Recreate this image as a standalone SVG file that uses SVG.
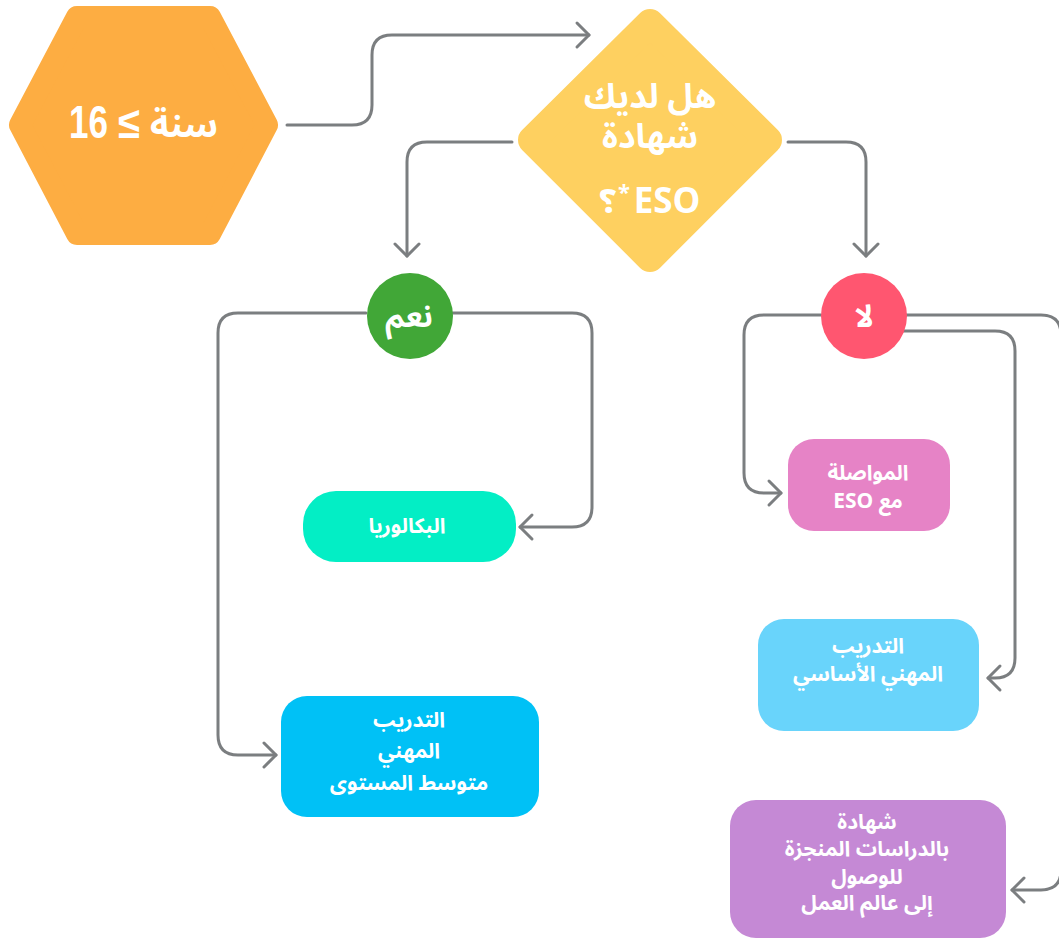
<svg xmlns="http://www.w3.org/2000/svg" width="1059" height="940" viewBox="0 0 1059 940">
<style>
.c{fill:none;stroke:#7B7E80;stroke-width:3;stroke-linecap:round;stroke-linejoin:round;marker-end:url(#ar)}
.t{fill:#fff;font-family:"Noto Sans Arabic","Noto Sans","DejaVu Sans",sans-serif;font-weight:bold;text-anchor:middle;direction:rtl}
.b{font-size:21px}
</style>
<defs>
<marker id="ar" viewBox="-15 -15 18 30" refX="0" refY="0" markerWidth="18" markerHeight="30" markerUnits="userSpaceOnUse" orient="auto">
<path d="M-12,-12 L0,0 L-12,12" fill="none" stroke="#7B7E80" stroke-width="3" stroke-linecap="round" stroke-linejoin="round"/>
</marker>
</defs>
<rect width="1059" height="940" fill="#fff"/>
<g id="connectors">
<path class="c" d="M287,125 H352 Q372,125 372,105 V55 Q372,35 392,35 H589"/>
<path class="c" d="M512,142 H427 Q407,142 407,162 V256"/>
<path class="c" d="M788,142 H846 Q866,142 866,162 V256"/>
<path class="c" d="M366,313 H238 Q218,313 218,333 V735 Q218,755 238,755 H276"/>
<path class="c" d="M452,313 H572 Q592,313 592,333 V507 Q592,527 572,527 H520"/>
<path class="c" d="M821,315 H764 Q744,315 744,335 V473 Q744,493 764,493 H781"/>
<path class="c" d="M904,331 H995 Q1015,331 1015,351 V658 Q1015,678 995,678 H988"/>
<path class="c" d="M906,315 H1041 Q1061,315 1061,335 V870 Q1061,890 1041,890 H1012"/>
</g>
<g id="n-age">
<polygon points="20,125 77,17 210,17 267,125 210,234 77,234" fill="#FDAD42" stroke="#FDAD42" stroke-width="22" stroke-linejoin="round"/>
<text x="69" y="138" class="t" style="direction:ltr;text-anchor:start;font-size:46px;font-family:'Liberation Sans',sans-serif" textLength="39" lengthAdjust="spacingAndGlyphs">16</text>
<text x="129" y="138" class="t" style="direction:ltr;font-size:44px;font-family:'Liberation Sans',sans-serif" textLength="22" lengthAdjust="spacingAndGlyphs">≤</text>
<text x="184" y="137" class="t" style="font-size:36px">سنة</text>
</g>
<g id="n-question">
<polygon points="650,23 768,140 650,258 532,140" fill="#FED060" stroke="#FED060" stroke-width="28" stroke-linejoin="round"/>
<text x="650" y="108" class="t" style="font-size:34px">هل لديك</text>
<text x="650" y="148" class="t" style="font-size:34px">شهادة</text>
<text x="667" y="213" class="t" style="font-size:35px;direction:ltr">ESO</text>
<text x="624" y="200" class="t" style="font-size:22px;direction:ltr">*</text>
<text x="608" y="213" class="t" style="font-size:33px">؟</text>
</g>
<g id="n-yes">
<circle cx="410" cy="316" r="43" fill="#41A737"/>
<text x="409" y="327" class="t" style="font-size:31px">نعم</text>
</g>
<g id="n-no">
<circle cx="864" cy="316" r="43" fill="#FF5670"/>
<text x="864" y="327" class="t" style="font-size:31px">لا</text>
</g>
<g id="n-bach">
<rect x="303" y="491" width="213" height="71" rx="33" fill="#03EEC5"/>
<text x="407" y="533" class="t b">البكالوريا</text>
</g>
<g id="n-fp-medio">
<rect x="281" y="696" width="258" height="121" rx="26" fill="#00C1F6"/>
<text x="409" y="727" class="t b">التدريب</text>
<text x="409" y="758" class="t b">المهني</text>
<text x="409" y="790" class="t b">متوسط المستوى</text>
</g>
<g id="n-eso">
<rect x="788" y="439" width="162" height="92" rx="26" fill="#E683C6"/>
<text x="868" y="480" class="t b">المواصلة</text>
<text x="868" y="508" class="t b">مع ESO</text>
</g>
<g id="n-fp-basica">
<rect x="758" y="619" width="221" height="112" rx="26" fill="#69D4FB"/>
<text x="868" y="653" class="t b">التدريب</text>
<text x="868" y="681" class="t b">المهني الأساسي</text>
</g>
<g id="n-cert">
<rect x="730" y="800" width="276" height="138" rx="26" fill="#C589D5"/>
<text x="867" y="829" class="t b">شهادة</text>
<text x="867" y="856" class="t b">بالدراسات المنجزة</text>
<text x="867" y="884" class="t b">للوصول</text>
<text x="867" y="910" class="t b">إلى عالم العمل</text>
</g>
</svg>
